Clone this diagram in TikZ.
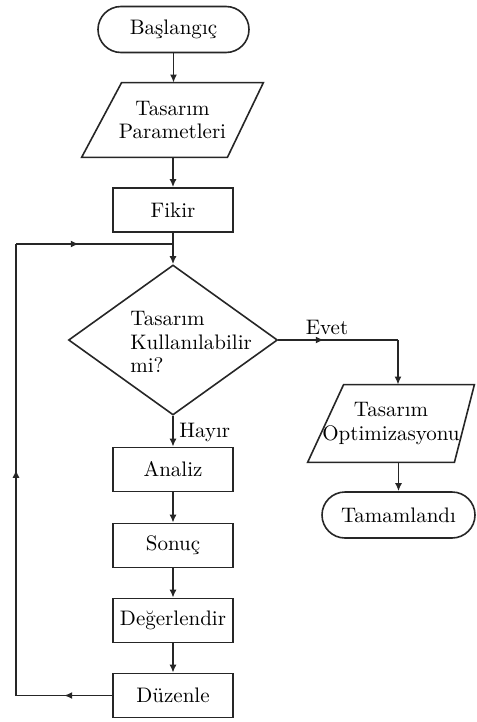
\documentclass[tikz,border=0pt]{standalone}
\usetikzlibrary{shapes.geometric,arrows.meta,decorations.markings}
\colorlet{lcol}{black!85}
\tikzstyle{every node}=[font=\fontsize{10.5}{11.8}\selectfont]
\tikzstyle{box}=[rectangle, draw=lcol, line width=0.8pt, minimum width=60pt, minimum height=22pt, inner sep=0pt]
\tikzstyle{term}=[rectangle, draw=lcol, line width=0.8pt, rounded corners=11.5pt, minimum height=23pt, inner sep=0pt]
\tikzstyle{io}=[rectangle, inner sep=0pt, align=center]
\tikzstyle{outline}=[line width=0.8pt, lcol, line join=miter]
\tikzstyle{decision}=[diamond, draw=lcol, line width=0.8pt, minimum width=104.5pt, minimum height=75pt, inner sep=0pt]
\tikzstyle{flow}=[line width=0.8pt, lcol, -{Latex[length=4pt,width=3.5pt]}]
\tikzstyle{link}=[line width=0.8pt, lcol]
\tikzstyle{midarrow}=[postaction={decorate}, decoration={markings, mark=at position #1 with {\arrow{Latex[length=4pt,width=3.5pt]}}}]

\begin{document}
\begin{tikzpicture}[x=0.5pt, y=-0.5pt]
			\useasboundingbox (0,0) rectangle (476,722);
			\node[term, minimum width=75.5pt] (bas) at (173.5, 29.5) {Başlangıç};
			\node[io, minimum width=90.5pt, minimum height=37pt] (par) at (172.5, 120) {Tasarım\\Parametleri};
			\node[box] (fik) at (173, 210) {Fikir};
			\node[decision] (dec) at (173, 340) {};
			\node[align=left, anchor=west, inner sep=0pt] (dectxt) at (130, 342) {Tasarım\\Kullanılabilir\\mi?};
			\node[box] (ana) at (173, 469.5) {Analiz};
			\node[box] (son) at (173, 545.5) {Sonuç};
			\node[box] (deg) at (173, 620.5) {Değerlendir};
			\node[box] (duz) at (173, 695.5) {Düzenle};
			\node[io, minimum width=83pt, minimum height=38.5pt] (opt) at (391, 423.5) {Tasarım\\Optimizasyonu};
			\node[term, minimum width=76.5pt] (tam) at (398.5, 515) {Tamamlandı};

			% Slanted boxes
			\draw[outline] ([xshift=20pt]par.north west) -- (par.north east) -- ([xshift=-18pt]par.south east) -- (par.south west) -- cycle;
			\draw[outline] ([xshift=18pt]opt.north west) -- (opt.north east) -- ([xshift=-10pt]opt.south east) -- (opt.south west) -- cycle;

			% Main column
			\draw[flow] (bas.south) -- (bas.south |- par.north);
			\draw[flow] (par.south -| fik.north) -- (fik.north);
			\draw[flow] (fik.south) -- (dec.north);
			\draw[flow] (dec.south) -- (ana.north);
			\draw[flow] (ana.south) -- (son.north);
			\draw[flow] (son.south) -- (deg.north);
			\draw[flow] (deg.south) -- (duz.north);
			\node[anchor=west, inner sep=0pt] (hay) at (179, 432) {Hayır};

			% Loop back
			\coordinate (lb) at (16, 695.5);
			\coordinate (lt) at (16, 244);
			\coordinate (lj) at (173, 244);
			\draw[link, midarrow=0.5] (duz.west) -- (lb);
			\draw[link, midarrow=0.5] (lb) -- (lt);
			\draw[link, midarrow=0.4] (lt) -- (lj);

			% Yes branch
			\coordinate (ec) at (398, 340);
			\draw[link, midarrow=0.38] (dec.east) -- (ec);
			\draw[flow] (ec) -- (ec |- opt.north);
			\draw[flow] (opt.south -| tam.north) -- (tam.north);
			\node[inner sep=0pt] (evt) at (327, 327) {Evet};
		\end{tikzpicture}
\end{document}
